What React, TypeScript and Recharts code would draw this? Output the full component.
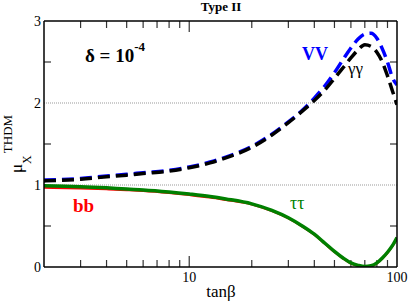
import { LineChart, Line, XAxis, YAxis, ReferenceLine } from 'recharts'

// tanβ sample points and signal strengths
const tanBeta = [2, 3, 4, 5, 6, 8, 10, 12.6, 15, 20, 25, 30, 35, 40, 45, 50, 55, 60, 65, 70, 75, 80, 85, 90, 95, 100]
const muVV = [1.06, 1.08, 1.11, 1.13, 1.15, 1.18, 1.22, 1.28, 1.34, 1.47, 1.62, 1.77, 1.91, 2.06, 2.21, 2.37, 2.53, 2.67, 2.78, 2.84, 2.85, 2.79, 2.66, 2.5, 2.31, 2.22]
const muGG = [1.05, 1.07, 1.1, 1.12, 1.14, 1.17, 1.21, 1.27, 1.33, 1.46, 1.61, 1.76, 1.9, 2.03, 2.16, 2.3, 2.43, 2.55, 2.65, 2.71, 2.69, 2.62, 2.5, 2.33, 2.15, 1.98]
const muTT = [0.99, 0.98, 0.965, 0.95, 0.94, 0.915, 0.89, 0.86, 0.83, 0.77, 0.69, 0.6, 0.5, 0.4, 0.29, 0.19, 0.11, 0.05, 0.02, 0.005, 0.015, 0.05, 0.11, 0.18, 0.26, 0.36]
const muBB = [0.97, 0.96, 0.95, 0.94, 0.93, 0.905, 0.88, 0.85, 0.82, 0.765, 0.685, 0.595, 0.495, 0.395, 0.285, 0.185, 0.105, 0.045, 0.015, 0, 0.01, 0.045, 0.105, 0.175, 0.255, 0.355]

const xTicks = [3, 4, 5, 6, 7, 8, 9, 10, 20, 30, 40, 50, 60, 70, 80, 90, 100]
const xLabels = [10, 100]
const yTicks = [0, 0.5, 1, 1.5, 2, 2.5, 3]
const gridLevels = [1, 2]

const X_DOMAIN = [2, 100]
const Y_DOMAIN = [0, 3]

const W = 409
const H = 305
const PLOT = { left: 44, right: 397, top: 21, bottom: 267 }
const FONT = "'Liberation Serif', 'DejaVu Serif', serif"
const serif = { fontFamily: FONT }

// inward tick marks, lengths in px converted to data units
const MINOR_PX = 7
const MAJOR_PX = 11
const pxPerDecade = (PLOT.right - PLOT.left) / Math.log10(X_DOMAIN[1] / X_DOMAIN[0])
const pxPerUnit = (PLOT.bottom - PLOT.top) / (Y_DOMAIN[1] - Y_DOMAIN[0])
const xStep = Math.pow(10, MINOR_PX / pxPerDecade)
const tickStyle = { stroke: '#333', strokeWidth: 1.2 }

const data = tanBeta.map((t, i) => ({
  t,
  vv: muVV[i],
  gg: muGG[i],
  tt: muTT[i],
  bb: muBB[i],
}))

function BottomLabel(props: any) {
  const { x, payload } = props
  if (!xLabels.includes(payload.value)) return <g />
  return (
    <text x={x} y={PLOT.bottom + 15} textAnchor="middle" fontSize={14} style={serif} fill="#000">
      {payload.value}
    </text>
  )
}

function LeftLabel(props: any) {
  const { y, payload } = props
  if (!Number.isInteger(payload.value)) return <g />
  return (
    <text x={PLOT.left - 3} y={y + 5} textAnchor="end" fontSize={14} style={serif} fill="#000">
      {payload.value}
    </text>
  )
}

export default function App() {
  const xMarks = xTicks.filter((v) => v < X_DOMAIN[1])
  const yMarks = yTicks.filter((v) => !Number.isInteger(v))
  return (
    <div style={{ position: 'absolute', left: 0, top: 0, width: W, height: H, background: '#fff' }}>
      <LineChart width={W} height={H} data={data} margin={{ top: 0, right: 0, bottom: 0, left: 0 }}>
        <XAxis
          xAxisId="b"
          dataKey="t"
          type="number"
          scale="log"
          domain={X_DOMAIN}
          allowDataOverflow
          ticks={xTicks}
          interval={0}
          height={38}
          tickLine={false}
          axisLine={{ stroke: '#000', strokeWidth: 1.5 }}
          tick={<BottomLabel />}
        />
        <XAxis
          xAxisId="t"
          orientation="top"
          dataKey="t"
          type="number"
          scale="log"
          domain={X_DOMAIN}
          allowDataOverflow
          height={21}
          tickLine={false}
          axisLine={{ stroke: '#000', strokeWidth: 1.5 }}
          tick={false}
        />
        <YAxis
          yAxisId="l"
          type="number"
          domain={Y_DOMAIN}
          allowDataOverflow
          ticks={yTicks}
          interval={0}
          width={44}
          tickLine={false}
          axisLine={{ stroke: '#000', strokeWidth: 1.5 }}
          tick={<LeftLabel />}
        />
        <YAxis
          yAxisId="r"
          orientation="right"
          type="number"
          domain={Y_DOMAIN}
          allowDataOverflow
          width={12}
          tickLine={false}
          axisLine={{ stroke: '#000', strokeWidth: 1.5 }}
          tick={false}
        />
        {gridLevels.map((g) => (
          <ReferenceLine key={`g${g}`} xAxisId="b" yAxisId="l" y={g} stroke="#999" strokeDasharray="1 1" />
        ))}
        {xMarks.map((v) => {
          const len = (xLabels.includes(v) ? MAJOR_PX : MINOR_PX) / pxPerUnit
          return [
            <ReferenceLine
              key={`xb${v}`}
              xAxisId="b"
              yAxisId="l"
              ifOverflow="visible"
              segment={[{ x: v, y: Y_DOMAIN[0] }, { x: v, y: Y_DOMAIN[0] + len }]}
              {...tickStyle}
            />,
            <ReferenceLine
              key={`xt${v}`}
              xAxisId="b"
              yAxisId="l"
              ifOverflow="visible"
              segment={[{ x: v, y: Y_DOMAIN[1] }, { x: v, y: Y_DOMAIN[1] - len }]}
              {...tickStyle}
            />,
          ]
        })}
        {yMarks.map((v) => [
          <ReferenceLine
            key={`yl${v}`}
            xAxisId="b"
            yAxisId="l"
            ifOverflow="visible"
            segment={[{ x: X_DOMAIN[0], y: v }, { x: X_DOMAIN[0] * xStep, y: v }]}
            {...tickStyle}
          />,
          <ReferenceLine
            key={`yr${v}`}
            xAxisId="b"
            yAxisId="l"
            ifOverflow="visible"
            segment={[{ x: X_DOMAIN[1], y: v }, { x: X_DOMAIN[1] / xStep, y: v }]}
            {...tickStyle}
          />,
        ])}
        <Line xAxisId="b" yAxisId="l" type="monotone" dataKey="vv" stroke="#0000ff" strokeWidth={3.5} strokeDasharray="12 6" dot={false} isAnimationActive={false} />
        <Line xAxisId="b" yAxisId="l" type="monotone" dataKey="gg" stroke="#000" strokeWidth={3.5} strokeDasharray="12 6" dot={false} isAnimationActive={false} />
        <Line xAxisId="b" yAxisId="l" type="monotone" dataKey="bb" stroke="#ff0000" strokeWidth={2.5} dot={false} isAnimationActive={false} />
        <Line xAxisId="b" yAxisId="l" type="monotone" dataKey="tt" stroke="#008000" strokeWidth={3.5} dot={false} isAnimationActive={false} />
      </LineChart>

      <svg width={W} height={H} style={{ position: 'absolute', left: 0, top: 0, pointerEvents: 'none', ...serif }}>
        <text x={221} y={11} textAnchor="middle" fontSize={13} fontWeight="bold" style={serif}>Type II</text>
        <text x={85} y={62} fontSize={19} fontWeight="bold" style={serif}>
          δ = 10<tspan dy={-11} fontSize={13}>-4</tspan>
        </text>
        <text x={302} y={60} fontSize={18} fontWeight="bold" fill="#0000ff" style={serif}>VV</text>
        <text x={348} y={74} fontSize={17} fill="#000" style={serif}>γγ</text>
        <text x={73} y={212} fontSize={19} fontWeight="bold" fill="#ff0000" style={serif}>bb</text>
        <text x={290} y={209} fontSize={18} fill="#008000" style={serif}>ττ</text>
        <text x={221} y={297} textAnchor="middle" fontSize={17} style={serif}>tanβ</text>
        <text x={22} y={173} transform="rotate(-90, 22, 173)" fontSize={17} style={serif}>
          μ<tspan dy={9} fontSize={12}>X</tspan>
          <tspan dx={2} dy={-19} fontSize={13}>THDM</tspan>
        </text>
      </svg>
    </div>
  )
}
